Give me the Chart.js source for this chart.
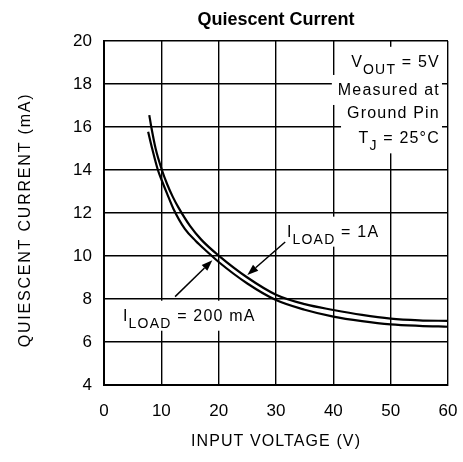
<!DOCTYPE html>
<html>
<head>
<meta charset="utf-8">
<script src="https://cdn.jsdelivr.net/npm/chart.js@4.4.0/dist/chart.umd.min.js"></script>
<style>
html, body { margin:0; padding:0; background:#fff; }
#wrap { width:463px; height:462px; }
</style>
</head>
<body>
<div id="wrap"><canvas id="qChart" width="463" height="462"></canvas></div>
<script>
// values
const xTicks = [0, 10, 20, 30, 40, 50, 60];
const yTicks = [4, 6, 8, 10, 12, 14, 16, 18, 20];

const vin1A = [7.9, 8.25, 9.0, 10.1, 11, 12, 13, 15, 17, 20, 25, 30, 35, 40, 45, 50, 55, 60];
const iq1A  = [16.55, 16.0, 15.0, 14.0, 13.35, 12.75, 12.25, 11.4, 10.75, 10.02, 9.0, 8.2, 7.76, 7.49, 7.26, 7.09, 7.01, 6.98];

const vin200mA = [7.7, 8.4, 9.4, 10.1, 11, 12.1, 14.1, 16, 18, 20, 25, 30, 35, 40, 45, 50, 55, 60];
const iq200mA  = [15.78, 15.0, 14.0, 13.5, 12.9, 12.2, 11.26, 10.7, 10.2, 9.72, 8.72, 7.95, 7.5, 7.18, 6.97, 6.82, 6.75, 6.71];

const titleText = 'Quiescent Current';
const xTitle = 'INPUT VOLTAGE (V)';
const yTitle = 'QUIESCENT CURRENT (mA)';

// annotations, placed in data units
const notes = [
    { parts: [['V'], ['OUT', 1], [' = 5V']], x: 58.6, y: 18.80, align: 'right' },
    { parts: [['Measured at']], x: 58.6, y: 17.49, align: 'right' },
    { parts: [['Ground Pin']], x: 58.6, y: 16.40, align: 'right' },
    { parts: [['T'], ['J', 1], [' = 25°C']], x: 58.6, y: 15.24, align: 'right' },
    { parts: [['I'], ['LOAD', 1], [' = 1A']], x: 31.9, y: 10.9, align: 'left' },
    { parts: [['I'], ['LOAD', 1], [' = 200 mA']], x: 3.3, y: 6.99, align: 'left' }
];
const arrows = [
    { from: [31.6, 10.65], to: [25.0, 9.12] },
    { from: [12.4, 8.11], to: [18.9, 9.8] }
];

const FONT = '"Liberation Sans", Arial, sans-serif';

function toPts(xs, ys) { return xs.map((v, i) => ({ x: v, y: ys[i] })); }

function partsWidth(ctx, parts) {
    let w = 0;
    parts.forEach(p => {
        ctx.font = (p[1] ? '14px ' : '16px ') + FONT;
        w += ctx.measureText(p[0]).width;
    });
    return w;
}

const annotate = {
    id: 'annotate',
    afterDraw(chart) {
        const ctx = chart.ctx;
        const xs = chart.scales.x, ys = chart.scales.y;
        const area = chart.chartArea;
        ctx.save();
        ctx.letterSpacing = '1.2px';
        ctx.fillStyle = '#000';

        // text blocks with white backing that breaks the grid
        notes.forEach(n => {
            const w = partsWidth(ctx, n.parts);
            const bx = xs.getPixelForValue(n.x);
            const by = ys.getPixelForValue(n.y);
            let left = n.align === 'right' ? bx - w : bx;
            ctx.fillStyle = '#fff';
            ctx.fillRect(left - 6, by - 20, w + 8, 30);
            ctx.fillStyle = '#000';
            ctx.textBaseline = 'alphabetic';
            ctx.textAlign = 'left';
            n.parts.forEach(p => {
                ctx.font = (p[1] ? '14px ' : '16px ') + FONT;
                ctx.fillText(p[0], left, p[1] ? by + 7 : by);
                left += ctx.measureText(p[0]).width;
            });
        });

        // arrows
        ctx.strokeStyle = '#000';
        ctx.lineWidth = 1.5;
        arrows.forEach(a => {
            const x1 = xs.getPixelForValue(a.from[0]), y1 = ys.getPixelForValue(a.from[1]);
            const x2 = xs.getPixelForValue(a.to[0]), y2 = ys.getPixelForValue(a.to[1]);
            const ang = Math.atan2(y2 - y1, x2 - x1);
            const hl = 11, hw = 4;
            ctx.beginPath();
            ctx.moveTo(x1, y1);
            ctx.lineTo(x2 - Math.cos(ang) * hl, y2 - Math.sin(ang) * hl);
            ctx.stroke();
            ctx.beginPath();
            ctx.moveTo(x2, y2);
            ctx.lineTo(x2 - Math.cos(ang) * hl - Math.sin(ang) * hw, y2 - Math.sin(ang) * hl + Math.cos(ang) * hw);
            ctx.lineTo(x2 - Math.cos(ang) * hl + Math.sin(ang) * hw, y2 - Math.sin(ang) * hl - Math.cos(ang) * hw);
            ctx.closePath();
            ctx.fill();
        });

        // title and axis titles
        const cx = (area.left + area.right) / 2;
        ctx.letterSpacing = '0px';
        ctx.font = 'bold 18px ' + FONT;
        ctx.textAlign = 'center';
        ctx.textBaseline = 'alphabetic';
        ctx.fillText(titleText, cx, 25);

        ctx.font = '16px ' + FONT;
        ctx.letterSpacing = '1.1px';
        ctx.textBaseline = 'middle';
        ctx.fillText(xTitle, cx, 442);

        ctx.letterSpacing = '1.8px';
        ctx.translate(26, 220);
        ctx.rotate(-Math.PI / 2);
        ctx.fillText(yTitle, 0, 0);
        ctx.restore();
    }
};

new Chart(document.getElementById('qChart'), {
    type: 'scatter',
    data: {
        datasets: [
            { label: 'ILOAD = 1A', data: toPts(vin1A, iq1A) },
            { label: 'ILOAD = 200 mA', data: toPts(vin200mA, iq200mA) }
        ].map(d => Object.assign(d, {
            showLine: true, borderColor: '#000', backgroundColor: '#000',
            borderWidth: 2.2, pointRadius: 0, fill: false,
            cubicInterpolationMode: 'monotone'
        }))
    },
    options: {
        responsive: false,
        animation: false,
        devicePixelRatio: 1,
        layout: { padding: { left: 0, right: 15, top: 41, bottom: 0 } },
        plugins: { legend: { display: false }, tooltip: { enabled: false }, title: { display: false } },
        scales: {
            x: {
                type: 'linear', min: 0, max: 60,
                afterBuildTicks: s => { s.ticks = xTicks.map(v => ({ value: v })); },
                afterFit: s => { s.height = 77; s.paddingLeft = 0; s.paddingRight = 0; },
                ticks: { color: '#000', padding: 16, font: { family: FONT, size: 17 } },
                grid: { color: '#000', lineWidth: 1.4, drawTicks: false },
                border: { color: '#000', width: 2 }
            },
            y: {
                type: 'linear', min: 4, max: 20,
                afterBuildTicks: s => { s.ticks = yTicks.map(v => ({ value: v })); },
                afterFit: s => { s.width = 104; s.paddingTop = 0; s.paddingBottom = 0; },
                ticks: { color: '#000', padding: 12, font: { family: FONT, size: 17 } },
                grid: { color: '#000', lineWidth: 1.4, drawTicks: false },
                border: { color: '#000', width: 2 }
            }
        }
    },
    plugins: [annotate]
});
</script>
</body>
</html>
